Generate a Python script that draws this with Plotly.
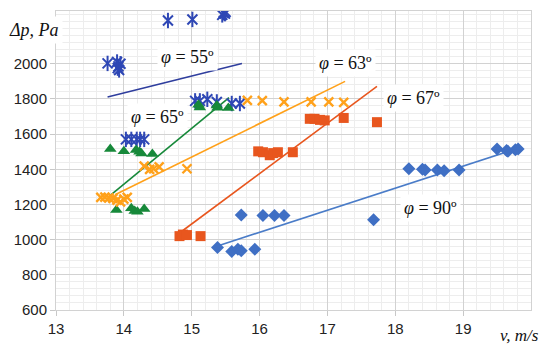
import plotly.graph_objects as go

# Measured pressure drop vs. velocity for five blade angles
phi55_v = [13.76, 13.90, 13.92, 13.93, 13.95, 13.91, 14.03, 14.11, 14.19, 14.24, 14.30,
           14.65, 15.01, 15.05, 15.12, 15.23, 15.37, 15.45, 15.47, 15.49, 15.50, 15.59, 15.71]
phi55_dp = [2002, 2010, 1985, 1965, 2000, 1975, 1570, 1570, 1570, 1570, 1570,
            2246, 2252, 1789, 1789, 1798, 1783, 2278, 2290, 2285, 2295, 1774, 1774]

phi65_v = [13.80, 14.00, 14.18, 14.23, 14.26, 14.42, 13.89, 14.11, 14.16, 14.20, 14.30,
           15.10, 15.12, 15.37, 15.38, 15.54]
phi65_dp = [1515, 1502, 1510, 1500, 1490, 1487, 1168, 1178, 1163, 1159, 1174,
            1767, 1752, 1763, 1750, 1748]

phi63_v = [13.66, 13.72, 13.78, 13.84, 13.90, 13.95, 14.00, 14.05, 14.30, 14.38, 14.44,
           14.52, 14.93, 15.82, 16.04, 16.36, 16.76, 17.02, 17.24]
phi63_dp = [1240, 1242, 1238, 1235, 1225, 1215, 1230, 1240, 1418, 1400, 1403,
            1414, 1403, 1792, 1790, 1783, 1783, 1783, 1780]

phi67_v = [14.82, 14.87, 14.93, 15.13, 15.98, 16.05, 16.15, 16.20, 16.27, 16.49,
           16.74, 16.81, 16.89, 16.96, 17.24, 17.73]
phi67_dp = [1020, 1029, 1026, 1020, 1502, 1497, 1480, 1492, 1497, 1497,
            1687, 1687, 1681, 1678, 1692, 1668]

phi90_v = [15.38, 15.59, 15.68, 15.73, 15.93, 15.73, 16.05, 16.22, 16.36, 17.68,
           18.20, 18.40, 18.44, 18.62, 18.72, 18.94, 19.50, 19.64, 19.66, 19.77, 19.81]
phi90_dp = [955, 933, 946, 937, 946, 1140, 1137, 1137, 1137, 1113,
            1403, 1400, 1396, 1396, 1392, 1396, 1515, 1507, 1502, 1511, 1515]

# Linear trend lines (end points)
fit55_v, fit55_dp = [13.76, 15.74], [1811, 2002]
fit65_v, fit65_dp = [13.80, 15.55], [1252, 1807]
fit63_v, fit63_dp = [13.87, 17.26], [1255, 1900]
fit67_v, fit67_dp = [14.87, 17.73], [1052, 1872]
fit90_v, fit90_dp = [15.38, 19.81], [964, 1520]

# Angle labels
label_text = ["<i>φ</i> = 55º", "<i>φ</i> = 65º", "<i>φ</i> = 63º", "<i>φ</i> = 67º", "<i>φ</i> = 90º"]
label_v = [14.94, 14.49, 17.26, 18.27, 18.52]
label_dp = [2040, 1700, 2002, 1807, 1181]

x_ticks = [13, 14, 15, 16, 17, 18, 19]
y_ticks = [600, 800, 1000, 1200, 1400, 1600, 1800, 2000]

C55 = "#2E47B5"
C55L = "#2F3E9E"
C65 = "#17893A"
C63 = "#FFA11A"
C67 = "#E8561E"
C90 = "#3F6FC4"
C90L = "#4A7CC8"

fig = go.Figure()

# trend lines first, markers on top
for xv, yv, col in [(fit55_v, fit55_dp, C55L), (fit65_v, fit65_dp, C65),
                    (fit63_v, fit63_dp, C63), (fit67_v, fit67_dp, C67),
                    (fit90_v, fit90_dp, C90L)]:
    fig.add_trace(go.Scatter(x=xv, y=yv, mode="lines",
                             line=dict(color=col, width=1.6), hoverinfo="skip"))

# six-armed star marker: an X plus a vertical stroke
fig.add_trace(go.Scatter(x=phi55_v, y=phi55_dp, mode="markers",
                         marker=dict(symbol="x-thin-open", size=10, color=C55,
                                     line=dict(color=C55, width=2))))
fig.add_trace(go.Scatter(x=phi55_v, y=phi55_dp, mode="markers",
                         marker=dict(symbol="line-ns-open", size=11, color=C55,
                                     line=dict(color=C55, width=2))))
fig.add_trace(go.Scatter(x=phi65_v, y=phi65_dp, mode="markers",
                         marker=dict(symbol="triangle-up", size=11, color=C65)))
fig.add_trace(go.Scatter(x=phi63_v, y=phi63_dp, mode="markers",
                         marker=dict(symbol="x-thin-open", size=9, color=C63,
                                     line=dict(color=C63, width=2.4))))
fig.add_trace(go.Scatter(x=phi67_v, y=phi67_dp, mode="markers",
                         marker=dict(symbol="square", size=10, color=C67)))
fig.add_trace(go.Scatter(x=phi90_v, y=phi90_dp, mode="markers",
                         marker=dict(symbol="diamond", size=10, color=C90)))

for t, xv, yv in zip(label_text, label_v, label_dp):
    fig.add_annotation(x=xv, y=yv, text=t, showarrow=False, xanchor="center",
                       yanchor="middle", bgcolor="white", borderpad=3,
                       font=dict(family="Liberation Serif", size=18, color="#111111"))

# axis titles
fig.add_annotation(xref="paper", yref="paper", x=0, y=1, xanchor="left", yanchor="middle",
                   xshift=-51, yshift=-19, text="<i>Δp, Pa</i>", showarrow=False,
                   bgcolor="white", borderpad=3,
                   font=dict(family="Liberation Serif", size=18, color="#111111"))
fig.add_annotation(xref="paper", yref="paper", x=1, y=0, xanchor="right", yanchor="middle",
                   xshift=10, yshift=-25, text="<i>v, m/s</i>", showarrow=False,
                   font=dict(family="Liberation Serif", size=17, color="#111111"))

axis_common = dict(showgrid=True, gridcolor="#d2d2d2", gridwidth=1,
                   zeroline=False, showline=True, linecolor="#d2d2d2", linewidth=1,
                   ticks="outside", ticklen=5, tickcolor="#c8c8c8",
                   tickfont=dict(family="Liberation Sans", size=15, color="#222222"))

fig.update_xaxes(range=[13, 20], tickvals=x_ticks, ticktext=[str(v) for v in x_ticks],
                 minor=dict(dtick=0.2, showgrid=True, gridcolor="#ededed", ticks=""),
                 mirror=True, **axis_common)
fig.update_yaxes(range=[600, 2300], tickvals=y_ticks, ticktext=[str(v) for v in y_ticks],
                 minor=dict(dtick=40, showgrid=True, gridcolor="#ededed", ticks=""),
                 mirror=True, **axis_common)

fig.update_layout(width=542, height=347, showlegend=False,
                  margin=dict(l=56, r=11, t=10, b=30),
                  paper_bgcolor="white", plot_bgcolor="white")

fig.write_html("out.html")
